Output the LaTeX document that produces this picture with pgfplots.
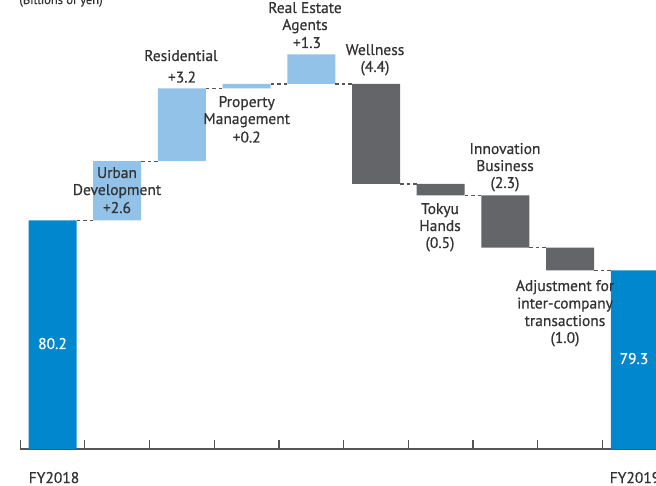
\documentclass[border=0pt]{standalone}
\usepackage{pgfplots}
\pgfplotsset{compat=1.18}
\usepackage{pgfplotstable}
\usepackage{fontspec}
\setmainfont{PT Sans}
\newfontfamily\labf[FakeBold=0.6]{PT Sans}
\definecolor{fyblue}{HTML}{0087CD}
\definecolor{upblue}{HTML}{93C2E8}
\definecolor{downgray}{HTML}{646569}
\definecolor{txt}{HTML}{333333}
\definecolor{axc}{HTML}{555555}

% picture-level positions of the floating bars (base + segment)
\pgfplotstableread{
x base up down total
0 0    0   0   80.2
1 80.2 2.6 0   0
2 82.8 3.2 0   0
3 86.0 0.2 0   0
4 86.2 1.3 0   0
5 81.8 0   4.4 0
6 81.3 0   0.5 0
7 79.0 0   2.3 0
8 78.0 0   1.0 0
9 0    0   0   78.0
}\wf

\newcommand{\lab}[3]{\node[anchor=base,text=txt,font=\labf\fontsize{15.5bp}{17bp}\selectfont,inner sep=0pt] at (#1bp,486bp-#2bp) {#3};}

\begin{document}
\begin{tikzpicture}
\useasboundingbox (0,0) rectangle (656bp,486bp);
\clip (0,0) rectangle (656bp,486bp);
\begin{axis}[
  at={(20.15bp,37bp)}, anchor=south west,
  scale only axis, width=636bp, height=449bp,
  xmin=-0.5, xmax=9.33, ymin=70.15, ymax=89.89,
  ybar stacked, bar width=48bp,
  axis x line=bottom, x axis line style={-, draw=axc, line width=1.2bp},
  hide y axis,
  xtick={-0.5,0.5,...,8.5}, xticklabels={},
  tick align=inside, major tick length=9bp,
  every tick/.style={draw=axc, line width=1.2bp},
  clip=true,
]
\addplot[draw=none, fill=none] table[x=x,y=base] {\wf};
\addplot[draw=none, fill=upblue] table[x=x,y=up] {\wf};
\addplot[draw=none, fill=downgray] table[x=x,y=down] {\wf};
\addplot[draw=none, fill=fyblue] table[x=x,y=total] {\wf};
\end{axis}
\begin{axis}[
  at={(20.15bp,37bp)}, anchor=south west,
  scale only axis, width=636bp, height=449bp,
  xmin=-0.5, xmax=9.33, ymin=70.15, ymax=89.89,
  hide axis,
]
\addplot[draw=axc, line width=1.2bp, dash pattern=on 3.5bp off 3bp] coordinates {(0.371,80.2) (0.629,80.2)};
\addplot[draw=axc, line width=1.2bp, dash pattern=on 3.5bp off 3bp] coordinates {(1.371,82.8) (1.629,82.8)};
\addplot[draw=axc, line width=1.2bp, dash pattern=on 3.5bp off 3bp] coordinates {(2.371,86.0) (2.629,86.0)};
\addplot[draw=axc, line width=1.2bp, dash pattern=on 3.5bp off 3bp] coordinates {(3.371,86.2) (3.629,86.2)};
\addplot[draw=axc, line width=1.2bp, dash pattern=on 3.5bp off 3bp] coordinates {(4.371,86.2) (4.629,86.2)};
\addplot[draw=axc, line width=1.2bp, dash pattern=on 3.5bp off 3bp] coordinates {(5.371,81.8) (5.629,81.8)};
\addplot[draw=axc, line width=1.2bp, dash pattern=on 3.5bp off 3bp] coordinates {(6.371,81.3) (6.629,81.3)};
\addplot[draw=axc, line width=1.2bp, dash pattern=on 3.5bp off 3bp] coordinates {(7.371,79.0) (7.629,79.0)};
\addplot[draw=axc, line width=1.2bp, dash pattern=on 3.5bp off 3bp] coordinates {(8.371,78.0) (8.629,78.0)};
\end{axis}
% labels
\node[anchor=base,text=txt,font=\labf\fontsize{12.5bp}{14bp}\selectfont,inner sep=0pt] at (61bp,482bp) {(Billions of yen)};
\lab{181}{61}{Residential}
\lab{182}{82.5}{+3.2}
\lab{117}{178}{Urban}
\lab{117}{195}{Development}
\lab{117}{213}{+2.6}
\lab{246.7}{107}{Property}
\lab{246.7}{124}{Management}
\lab{246.7}{142.5}{+0.2}
\lab{305}{13}{Real Estate}
\lab{305}{30}{Agents}
\lab{307}{48}{+1.3}
\lab{375}{55}{Wellness}
\lab{375}{72}{(4.4)}
\lab{440}{214}{Tokyu}
\lab{440}{231}{Hands}
\lab{440}{248}{(0.5)}
\lab{505}{154}{Innovation}
\lab{505}{171}{Business}
\lab{505}{188}{(2.3)}
\lab{565}{291}{Adjustment for}
\lab{565}{308.5}{inter-company}
\lab{565}{326}{transactions}
\lab{565}{343}{(1.0)}
\node[anchor=base,text=white,font=\labf\fontsize{15.5bp}{17bp}\selectfont,inner sep=0pt] at (52.5bp,486bp-349bp) {80.2};
\node[anchor=base,text=white,font=\labf\fontsize{15.5bp}{17bp}\selectfont,inner sep=0pt] at (634bp,486bp-364bp) {79.3};
\lab{54}{483}{FY2018}
\lab{635}{483}{FY2019}
\end{tikzpicture}
\end{document}
